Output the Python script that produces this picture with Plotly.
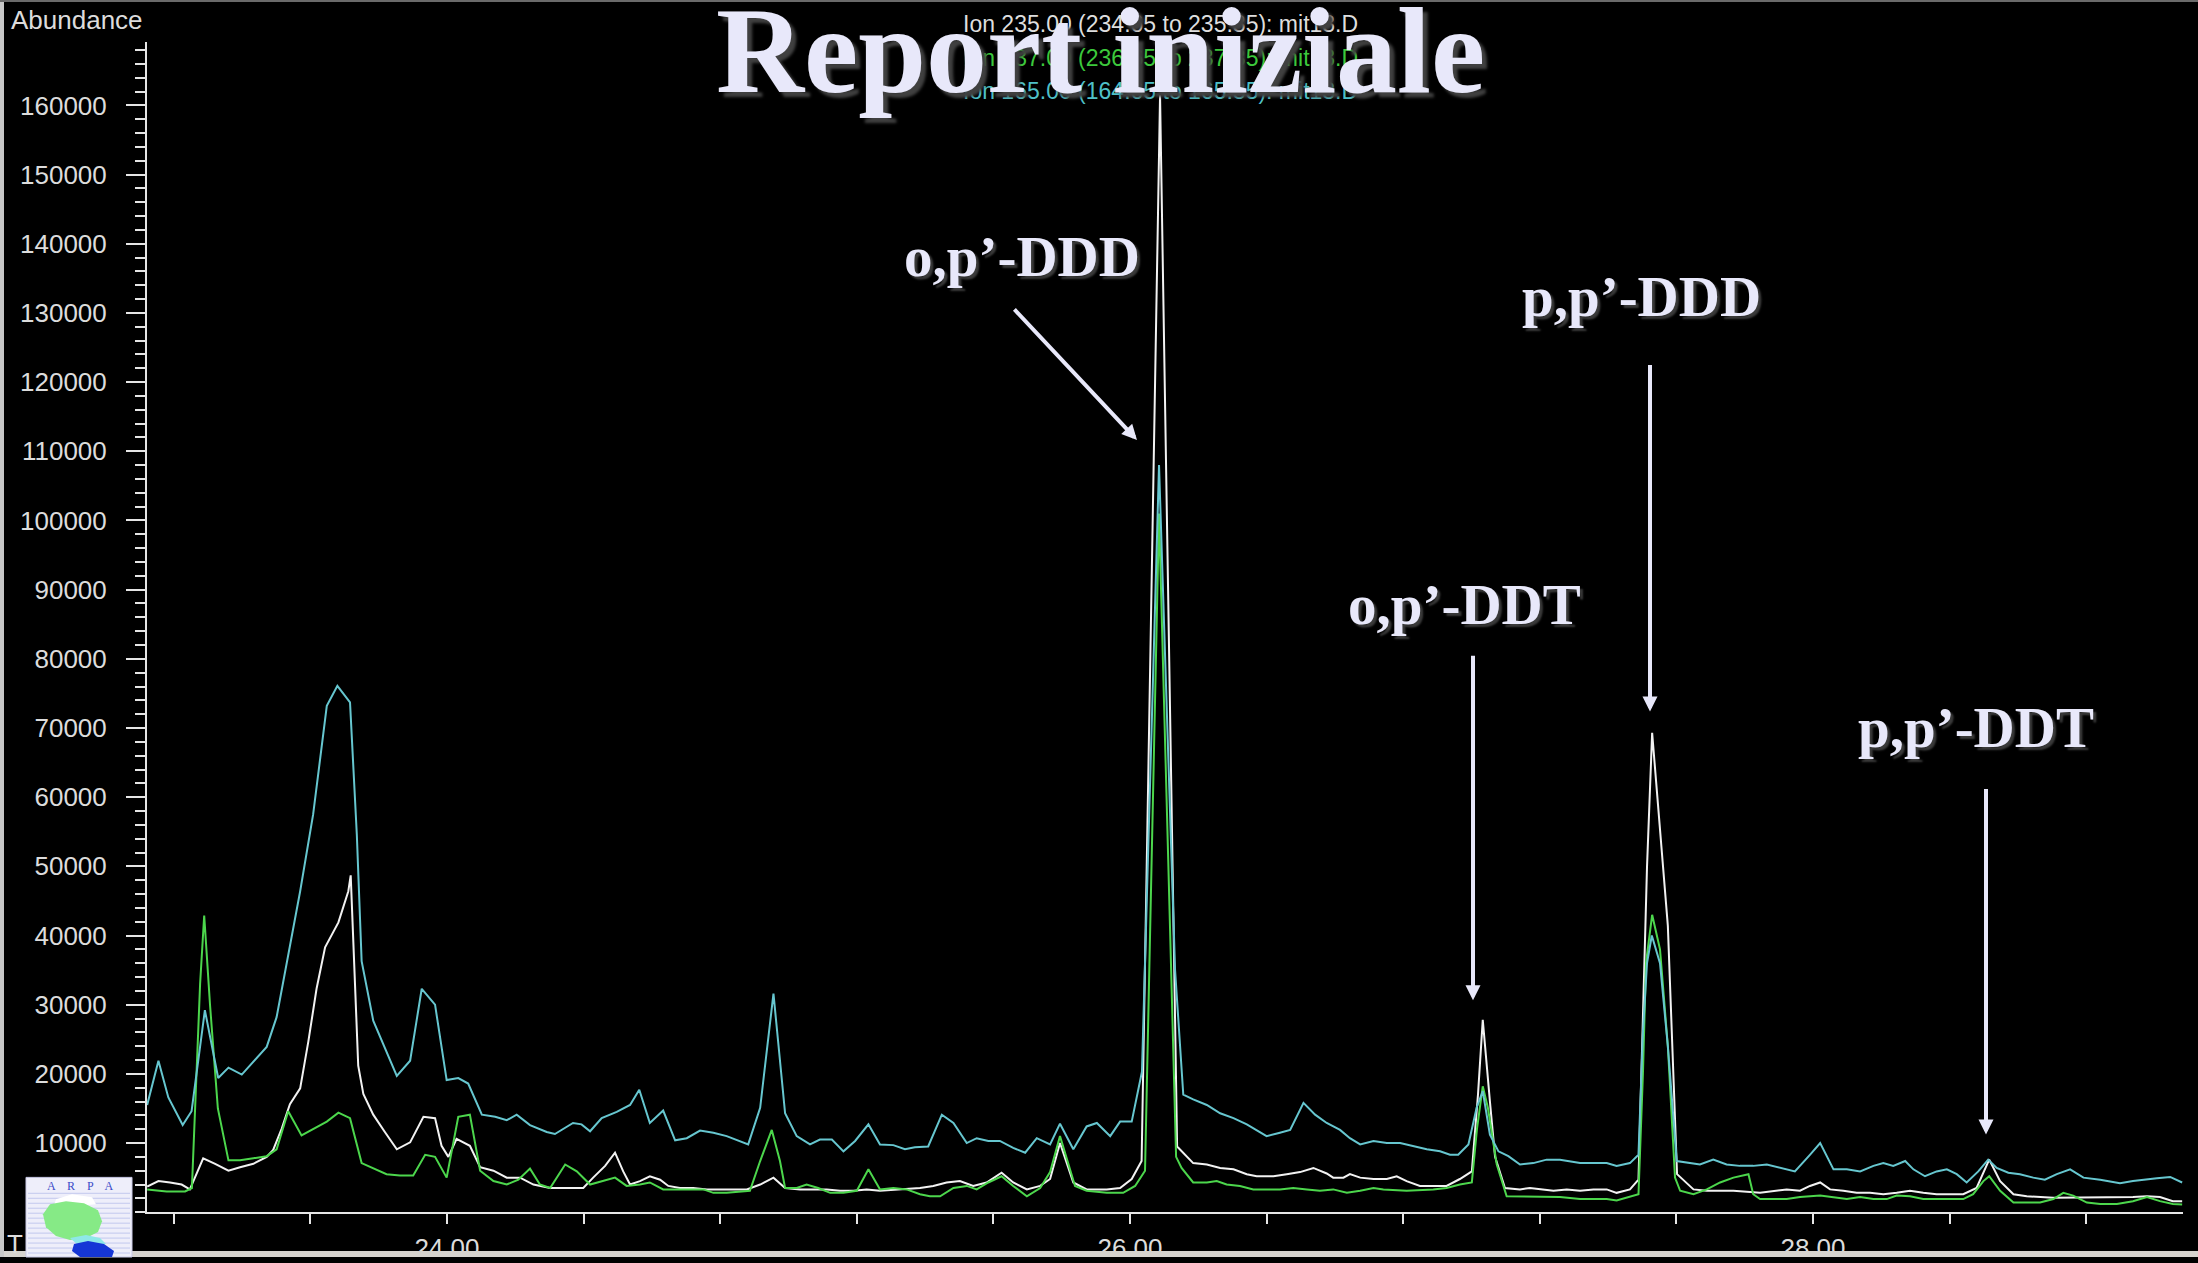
import plotly.graph_objects as go

# ---------------------------------------------------------------------------
# Chromatogram data (retention time in minutes, abundance in counts)
# ---------------------------------------------------------------------------

# Ion 235.00 trace (white)
ion235_time = [
    23.122, 23.155, 23.189, 23.223, 23.247, 23.286, 23.321, 23.360, 23.394, 23.433,
    23.472, 23.491, 23.516, 23.540, 23.570, 23.594, 23.618, 23.643, 23.682, 23.711,
    23.718, 23.731, 23.740, 23.755, 23.784, 23.818, 23.853, 23.892, 23.931, 23.965,
    23.984, 24.004, 24.028, 24.067, 24.097, 24.136, 24.175, 24.214, 24.253, 24.302,
    24.399, 24.428, 24.463, 24.492, 24.516, 24.536, 24.565, 24.594, 24.624, 24.648,
    24.682, 24.721, 24.761, 24.819, 24.878, 24.917, 24.956, 24.990, 25.034, 25.112,
    25.151, 25.190, 25.229, 25.268, 25.327, 25.385, 25.424, 25.463, 25.502, 25.541,
    25.580, 25.624, 25.658, 25.698, 25.737, 25.766, 25.795, 25.834, 25.873, 25.932,
    25.971, 26.005, 26.034, 26.088, 26.138, 26.185, 26.225, 26.264, 26.303, 26.342,
    26.371, 26.420, 26.459, 26.498, 26.537, 26.576, 26.595, 26.625, 26.644, 26.674,
    26.713, 26.752, 26.781, 26.810, 26.849, 26.927, 26.966, 27.001, 27.019, 27.033,
    27.054, 27.069, 27.098, 27.142, 27.171, 27.201, 27.240, 27.279, 27.318, 27.357,
    27.396, 27.425, 27.464, 27.489, 27.514, 27.529, 27.575, 27.602, 27.650, 27.689,
    27.767, 27.845, 27.884, 27.923, 27.962, 27.991, 28.021, 28.050, 28.089, 28.128,
    28.167, 28.206, 28.245, 28.284, 28.323, 28.362, 28.440, 28.479, 28.516, 28.548,
    28.587, 28.626, 28.704, 28.782, 28.841, 28.937, 28.978, 29.016, 29.054, 29.081,
]
ion235_abund = [
    3700, 4500, 4300, 4000, 3300, 7800, 7000, 6000, 6500, 7000,
    8000, 9000, 12100, 15600, 17900, 24700, 32300, 38300, 41900, 46400,
    48700, 33300, 21200, 17100, 14100, 11600, 9100, 10100, 13800, 13600,
    9600, 8000, 10600, 9600, 6500, 6000, 5000, 5000, 4000, 3500,
    3500, 5000, 6700, 8600, 5900, 4000, 4500, 5200, 4700, 3800,
    3500, 3500, 3300, 3300, 3300, 4000, 5000, 3500, 3300, 3300,
    3100, 3100, 3300, 3100, 3300, 3500, 3800, 4300, 4500, 3800,
    4300, 5700, 4300, 3300, 3800, 4800, 10000, 4300, 3300, 3300,
    3500, 4800, 7400, 161500, 9500, 7100, 6900, 6400, 6200, 5500,
    5200, 5200, 5500, 5800, 6400, 5600, 5000, 5000, 5500, 5000,
    4800, 4800, 5200, 4500, 3800, 3800, 4800, 5900, 17000, 27800,
    16000, 8000, 3500, 3300, 3500, 3300, 3100, 3300, 3100, 3300,
    3300, 2800, 3300, 4700, 50000, 69300, 41400, 5500, 3300, 3100,
    3100, 2800, 3100, 3300, 3100, 3800, 4300, 3300, 3100, 2800,
    2800, 2600, 2800, 3100, 2800, 2600, 2600, 3500, 7600, 4500,
    2600, 2300, 2100, 2100, 2200, 2200, 2300, 2200, 1600, 1600,
]

# Ion 237.00 trace (green)
ion237_time = [
    23.122, 23.179, 23.233, 23.253, 23.277, 23.289, 23.306, 23.329, 23.360, 23.394,
    23.433, 23.472, 23.501, 23.535, 23.574, 23.613, 23.648, 23.682, 23.716, 23.750,
    23.784, 23.823, 23.862, 23.901, 23.936, 23.965, 23.999, 24.033, 24.067, 24.097,
    24.136, 24.175, 24.209, 24.243, 24.272, 24.302, 24.346, 24.380, 24.419, 24.453,
    24.492, 24.526, 24.565, 24.594, 24.633, 24.751, 24.780, 24.819, 24.887, 24.917,
    24.951, 24.975, 24.990, 25.024, 25.053, 25.087, 25.122, 25.161, 25.200, 25.234,
    25.268, 25.307, 25.346, 25.385, 25.414, 25.444, 25.483, 25.522, 25.551, 25.585,
    25.624, 25.658, 25.698, 25.737, 25.766, 25.795, 25.839, 25.873, 25.932, 25.980,
    26.015, 26.044, 26.085, 26.135, 26.151, 26.185, 26.225, 26.254, 26.283, 26.322,
    26.361, 26.439, 26.478, 26.518, 26.556, 26.595, 26.635, 26.674, 26.713, 26.742,
    26.810, 26.888, 26.927, 26.966, 27.001, 27.016, 27.033, 27.048, 27.074, 27.103,
    27.259, 27.318, 27.396, 27.425, 27.464, 27.489, 27.502, 27.511, 27.529, 27.552,
    27.575, 27.596, 27.611, 27.650, 27.689, 27.728, 27.767, 27.811, 27.825, 27.845,
    27.923, 27.962, 28.021, 28.060, 28.099, 28.138, 28.177, 28.216, 28.245, 28.284,
    28.323, 28.440, 28.469, 28.499, 28.516, 28.548, 28.587, 28.665, 28.704, 28.733,
    28.762, 28.802, 28.841, 28.890, 28.937, 28.978, 29.016, 29.054, 29.081,
]
ion237_abund = [
    3300, 3000, 3000, 3500, 33000, 42900, 30000, 15000, 7500, 7500,
    7800, 8100, 9100, 14600, 11100, 12100, 13100, 14400, 13600, 7100,
    6300, 5500, 5300, 5300, 8300, 8000, 5000, 13800, 14100, 6000,
    4500, 4000, 4700, 6300, 4000, 3500, 6900, 5900, 4000, 4500,
    5000, 3800, 4000, 4300, 3300, 3300, 2800, 2800, 3100, 7400,
    11900, 7400, 3500, 3500, 4000, 3500, 2800, 2800, 3100, 6200,
    3300, 3500, 3300, 2600, 2300, 2300, 3500, 3800, 3300, 4300,
    5200, 3800, 2300, 3500, 5800, 11000, 3800, 3100, 2800, 2800,
    3800, 6000, 101000, 8000, 6400, 4300, 4300, 4500, 4000, 3800,
    3300, 3300, 3500, 3300, 3100, 3300, 2800, 3100, 3500, 3300,
    3100, 3300, 3500, 4000, 4300, 12000, 18200, 15100, 6900, 2300,
    2200, 1900, 1900, 1700, 2200, 2600, 20000, 36000, 43000, 38000,
    24000, 5000, 3100, 2600, 3300, 4300, 5000, 5500, 2600, 1900,
    1900, 2200, 2400, 2200, 1900, 2200, 1900, 1900, 2400, 2300,
    1900, 1900, 2600, 4500, 5200, 3100, 1400, 1400, 1900, 2800,
    2400, 1400, 1200, 1200, 1600, 2200, 1600, 1200, 1100,
]

# Ion 165.00 trace (cyan)
ion165_time = [
    23.122, 23.155, 23.184, 23.226, 23.252, 23.291, 23.330, 23.360, 23.399, 23.433,
    23.472, 23.501, 23.531, 23.570, 23.608, 23.648, 23.679, 23.716, 23.736, 23.750,
    23.784, 23.823, 23.853, 23.892, 23.926, 23.965, 23.999, 24.033, 24.062, 24.102,
    24.141, 24.175, 24.204, 24.243, 24.292, 24.316, 24.369, 24.394, 24.419, 24.453,
    24.497, 24.536, 24.563, 24.594, 24.633, 24.668, 24.702, 24.741, 24.780, 24.819,
    24.848, 24.882, 24.917, 24.956, 24.990, 25.024, 25.063, 25.092, 25.127, 25.161,
    25.195, 25.234, 25.268, 25.307, 25.341, 25.370, 25.409, 25.449, 25.483, 25.522,
    25.551, 25.585, 25.619, 25.658, 25.693, 25.727, 25.766, 25.795, 25.834, 25.873,
    25.903, 25.942, 25.971, 26.005, 26.035, 26.085, 26.132, 26.156, 26.185, 26.225,
    26.264, 26.303, 26.342, 26.371, 26.400, 26.439, 26.469, 26.508, 26.542, 26.576,
    26.615, 26.644, 26.674, 26.713, 26.752, 26.791, 26.830, 26.869, 26.908, 26.937,
    26.961, 26.991, 27.015, 27.033, 27.054, 27.079, 27.108, 27.142, 27.181, 27.220,
    27.259, 27.289, 27.318, 27.357, 27.396, 27.425, 27.464, 27.489, 27.502, 27.514,
    27.528, 27.552, 27.575, 27.601, 27.640, 27.669, 27.708, 27.747, 27.786, 27.825,
    27.865, 27.903, 27.947, 27.991, 28.021, 28.060, 28.099, 28.138, 28.177, 28.206,
    28.235, 28.270, 28.294, 28.328, 28.362, 28.392, 28.421, 28.450, 28.484, 28.513,
    28.538, 28.572, 28.606, 28.645, 28.679, 28.714, 28.753, 28.792, 28.841, 28.899,
    28.937, 29.007, 29.046, 29.081,
]
ion165_abund = [
    15500, 21900, 16600, 12600, 14600, 29200, 19400, 20900, 19900, 21700,
    23900, 28200, 36300, 46400, 57500, 73200, 76100, 73700, 54500, 36300,
    27700, 23200, 19700, 21900, 32300, 30000, 19100, 19400, 18600, 14100,
    13800, 13300, 14100, 12600, 11600, 11300, 12900, 12700, 11700, 13600,
    14500, 15500, 17700, 12900, 14700, 10400, 10700, 11800, 11500, 11000,
    10500, 9800, 15100, 31600, 14300, 11000, 9800, 10500, 10500, 8800,
    10300, 12700, 9800, 9700, 9100, 9400, 9500, 14100, 12900, 10000,
    10700, 10300, 10300, 9300, 8600, 10700, 9800, 12800, 9100, 12400,
    12900, 11000, 13100, 13100, 20300, 108000, 35000, 17000, 16300, 15500,
    14300, 13600, 12700, 11900, 11000, 11500, 11900, 15800, 14100, 12900,
    11900, 10700, 9800, 10300, 10000, 10000, 9500, 9100, 8800, 8300,
    8300, 9800, 15100, 17500, 11200, 8800, 8100, 6900, 7100, 7600,
    7600, 7400, 7100, 7100, 7100, 6700, 7100, 8300, 26000, 36000,
    40000, 36000, 24000, 7400, 7100, 6900, 7600, 6900, 6700, 6700,
    6900, 6400, 5900, 8300, 10000, 6200, 6200, 5900, 6700, 7100,
    6700, 7400, 6200, 5200, 5900, 6200, 5500, 4300, 5900, 7600,
    6400, 5700, 5500, 5000, 4700, 5500, 6200, 5000, 4700, 4200,
    4500, 4900, 5100, 4300,
]

# Ion legend lines shown above the traces
ion_labels = [
    "Ion 235.00 (234.65 to 235.35): mit13.D",
    "Ion 237.00 (236.65 to 237.35): mit13.D",
    "Ion 165.00 (164.65 to 165.35): mit13.D",
]

# Axis ticks
x_tickvals = [23.2, 23.6, 24.0, 24.4, 24.8, 25.2, 25.6, 26.0, 26.4, 26.8,
              27.2, 27.6, 28.0, 28.4, 28.8]
x_ticktext = ["", "", "24.00", "", "", "", "", "26.00", "", "",
              "", "", "28.00", "", ""]
y_tickvals = [10000 * k for k in range(1, 17)]
y_minor_vals = [2000 * k for k in range(0, 85)]

# Compound names pointed at by the arrows
compounds = ["o,p\u2019-DDD", "p,p\u2019-DDD", "o,p\u2019-DDT", "p,p\u2019-DDT"]

# ---------------------------------------------------------------------------
# Page geometry (pixels)
# ---------------------------------------------------------------------------
W, H = 2198, 1263
PLOT_L, PLOT_R, PLOT_T, PLOT_B = 147, 2183, 42, 1218
X_RANGE = [23.1215, 29.0835]
Y_RANGE = [0, 169200]


def px(x):
    return x / W


def py(y):
    return 1 - y / H


AXIS_COLOR = "#e6e6e6"
LABEL_COLOR = "#e8e8fa"
TRACE_COLORS = ["#f2f2f2", "#4cd64c", "#66c6cf"]

fig = go.Figure()

for t, a, c, name in zip(
    [ion235_time, ion237_time, ion165_time],
    [ion235_abund, ion237_abund, ion165_abund],
    TRACE_COLORS,
    ion_labels,
):
    fig.add_trace(go.Scatter(
        x=t, y=a, mode="lines", name=name,
        line=dict(color=c, width=2), hoverinfo="skip",
    ))

tick_font = dict(family="Liberation Sans, Arial, sans-serif", size=26, color="#dcdcdc")

fig.update_layout(
    width=W, height=H,
    margin=dict(l=0, r=0, t=0, b=0),
    paper_bgcolor="black", plot_bgcolor="black",
    showlegend=False,
    xaxis=dict(
        domain=[px(PLOT_L), px(PLOT_R)], range=X_RANGE,
        showgrid=False, zeroline=False,
        showline=True, linecolor=AXIS_COLOR, linewidth=2,
        ticks="outside", ticklen=10, tickwidth=2, tickcolor=AXIS_COLOR,
        tickmode="array", tickvals=x_tickvals, ticktext=x_ticktext,
        tickfont=tick_font, ticklabelstandoff=2,
    ),
    yaxis=dict(
        domain=[py(PLOT_B), py(PLOT_T)], range=Y_RANGE,
        showgrid=False, zeroline=False,
        showline=True, linecolor=AXIS_COLOR, linewidth=2,
        ticks="outside", ticklen=19, tickwidth=2, tickcolor=AXIS_COLOR,
        tickmode="array", tickvals=y_tickvals,
        ticktext=[str(v) for v in y_tickvals],
        tickfont=tick_font, ticklabelstandoff=14,
        minor=dict(tickmode="array", tickvals=y_minor_vals, ticks="outside",
                   ticklen=10, tickwidth=2, tickcolor=AXIS_COLOR),
    ),
)

annotations = []

# Y axis title and the (partly hidden) time axis title
annotations.append(dict(
    text="Abundance", x=px(9), y=py(20), xref="paper", yref="paper",
    xanchor="left", yanchor="middle", showarrow=False, font=tick_font,
))
annotations.append(dict(
    text="T", x=px(5), y=py(1250), xref="paper", yref="paper",
    xanchor="left", yanchor="middle", showarrow=False, font=tick_font,
))

# Ion legend
for label, color, yc in zip(ion_labels, ["#dedede", "#3cc83c", "#4fc0c8"], [24, 58, 91]):
    annotations.append(dict(
        text=label, x=px(961), y=py(yc), xref="paper", yref="paper",
        xanchor="left", yanchor="middle", showarrow=False,
        font=dict(family="Liberation Sans, Arial, sans-serif", size=23, color=color),
    ))

serif_bold = "Liberation Serif, Times New Roman, serif"
shadow = "3px 3px 2px #3a3a3a"

# Slide title
annotations.append(dict(
    text="<b>Report iniziale</b>", x=px(1100), y=py(51), xref="paper", yref="paper",
    xanchor="center", yanchor="middle", showarrow=False,
    font=dict(family=serif_bold, size=122, color=LABEL_COLOR, shadow="5px 5px 3px #404040"),
))

# Compound labels and arrows
label_pos = [(1022, 258), (1641, 298), (1464, 607), (1976, 731)]
arrow_px = [((1013, 310), (1137, 442)), ((1650, 367), (1650, 715)),
            ((1473, 659), (1473, 1005)), ((1986, 793), (1986, 1140))]
for name, (lx, ly), ((tx, ty), (hx, hy)) in zip(compounds, label_pos, arrow_px):
    annotations.append(dict(
        text="<b>%s</b>" % name, x=px(lx), y=py(ly), xref="paper", yref="paper",
        xanchor="center", yanchor="middle", showarrow=False,
        font=dict(family=serif_bold, size=57, color=LABEL_COLOR, shadow=shadow),
    ))
    annotations.append(dict(
        text="", x=px(hx), y=py(hy), xref="paper", yref="paper",
        ax=tx - hx, ay=ty - hy, axref="pixel", ayref="pixel",
        showarrow=True, arrowhead=2, arrowsize=0.75, arrowwidth=4,
        arrowcolor=LABEL_COLOR,
    ))

fig.update_layout(annotations=annotations)

# Window frame: bottom status strip, left and top borders
shapes = [
    dict(type="rect", xref="paper", yref="paper", x0=0, x1=1, y0=0, y1=py(1257),
         fillcolor="#d6d3ce", line_width=0, layer="above"),
    dict(type="rect", xref="paper", yref="paper", x0=0, x1=px(4), y0=0, y1=1,
         fillcolor="#c8c8c8", line_width=0, layer="above"),
    dict(type="rect", xref="paper", yref="paper", x0=0, x1=1, y0=py(2), y1=1,
         fillcolor="#6a6a6a", line_width=0, layer="above"),
]

# ARPA logo in the lower-left corner
LOGO_L, LOGO_R, LOGO_T, LOGO_B = 26, 132, 1183, 1263
shapes.append(dict(type="rect", xref="paper", yref="paper",
                   x0=px(LOGO_L), x1=px(LOGO_R), y0=py(LOGO_B), y1=py(LOGO_T),
                   fillcolor="#eeeefa", line=dict(color="#c9c9e6", width=1), layer="above"))
for yy in range(LOGO_T + 16, LOGO_B, 5):
    shapes.append(dict(type="line", xref="paper", yref="paper",
                       x0=px(LOGO_L + 2), x1=px(LOGO_R - 2), y0=py(yy), y1=py(yy),
                       line=dict(color="#c2c8ee", width=1), layer="above"))


def blob(points):
    return "M " + " L ".join("%.6f,%.6f" % (px(x), py(y)) for x, y in points) + " Z"


# light patch, green region, cyan fringe and blue lake of the emblem
shapes.append(dict(type="path", xref="paper", yref="paper", layer="above",
                   path=blob([(56, 1205), (72, 1200), (92, 1203), (96, 1210), (70, 1212), (54, 1211)]),
                   fillcolor="#ffffff", line_width=0))
shapes.append(dict(type="path", xref="paper", yref="paper", layer="above",
                   path=blob([(50, 1210), (66, 1207), (84, 1209), (98, 1216), (102, 1227),
                              (98, 1238), (86, 1244), (70, 1246), (56, 1242), (46, 1233),
                              (43, 1220)]),
                   fillcolor="#86ea86", line_width=0))
shapes.append(dict(type="path", xref="paper", yref="paper", layer="above",
                   path=blob([(70, 1244), (86, 1241), (100, 1244), (106, 1250), (78, 1251)]),
                   fillcolor="#8ee8e8", line_width=0))
shapes.append(dict(type="path", xref="paper", yref="paper", layer="above",
                   path=blob([(74, 1250), (88, 1247), (104, 1250), (114, 1257), (112, 1263),
                              (80, 1263), (72, 1257)]),
                   fillcolor="#1636d6", line_width=0))
fig.update_layout(shapes=shapes)

fig.add_annotation(text="A    R    P    A", x=px(80), y=py(1192), xref="paper", yref="paper",
                   xanchor="center", yanchor="middle", showarrow=False,
                   font=dict(family=serif_bold, size=12, color="#3a4ac8"))

fig.write_html("out.html")
